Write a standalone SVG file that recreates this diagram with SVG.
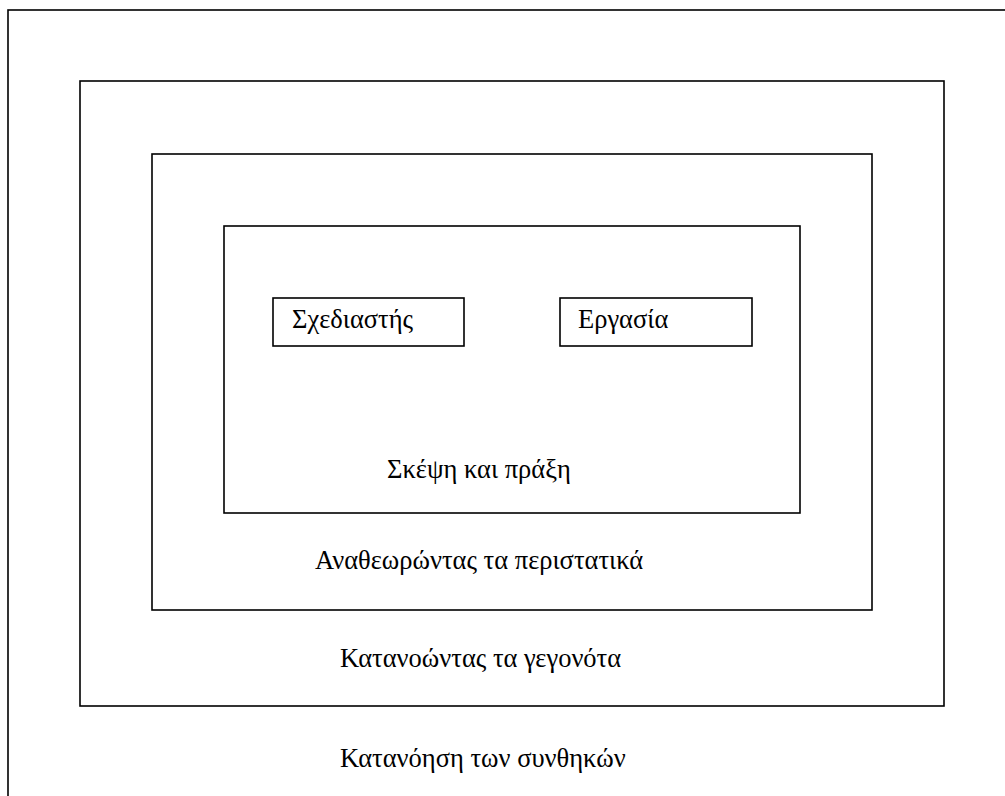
<svg xmlns="http://www.w3.org/2000/svg" width="1005" height="796" viewBox="0 0 1005 796">
  <style>
    .frame { fill: none; stroke: #000; stroke-width: 1.6; }
    .label { font-family: "Liberation Serif", "Times New Roman", serif; font-size: 26.5px; fill: #000; }
  </style>
  <rect width="1005" height="796" fill="#fff"/>

  <g id="level-conditions">
    <rect class="frame" x="8" y="10" width="1100" height="900"/>
    <text class="label" x="340" y="767">Κατανόηση των συνθηκών</text>
  </g>

  <g id="level-facts">
    <rect class="frame" x="80" y="81" width="864" height="625"/>
    <text class="label" x="340" y="667">Κατανοώντας τα γεγονότα</text>
  </g>

  <g id="level-incidents">
    <rect class="frame" x="152" y="154" width="720" height="456"/>
    <text class="label" x="315" y="569">Αναθεωρώντας τα περιστατικά</text>
  </g>

  <g id="level-thought-action">
    <rect class="frame" x="224" y="226" width="576" height="287"/>
    <text class="label" x="387" y="478">Σκέψη και πράξη</text>
  </g>

  <g id="designer">
    <rect class="frame" x="273" y="298" width="191" height="48"/>
    <text class="label" x="292" y="328">Σχεδιαστής</text>
  </g>

  <g id="task">
    <rect class="frame" x="560" y="298" width="192" height="48"/>
    <text class="label" x="578" y="328">Εργασία</text>
  </g>

  <g id="connectors"/>
</svg>
